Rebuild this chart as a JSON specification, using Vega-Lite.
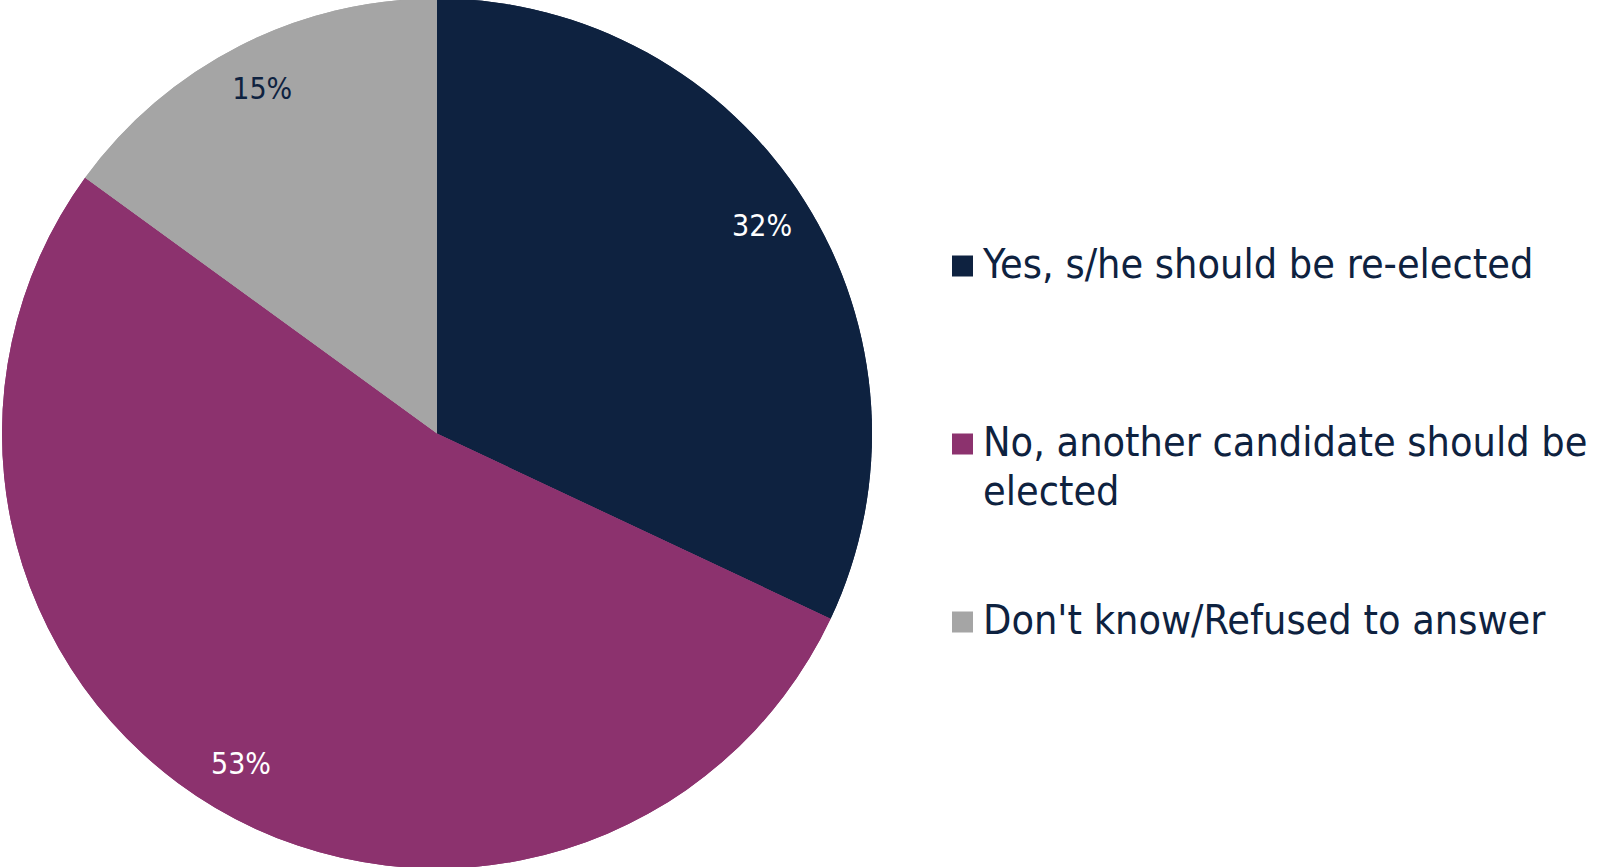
{
  "$schema": "https://vega.github.io/schema/vega-lite/v6.json",
  "width": 874,
  "height": 867,
  "padding": {"left": 0, "top": 0, "bottom": 0, "right": 734},
  "autosize": {"type": "none"},
  "background": "white",
  "config": {
    "view": {"stroke": null},
    "style": {"guide-label": {"lineHeight": 49}},
    "legend": {
      "title": null,
      "orient": "none",
      "symbolType": "square",
      "symbolSize": 441,
      "symbolStrokeWidth": 0,
      "labelFont": "DejaVu Sans Condensed",
      "labelFontSize": 41,
      "labelColor": "#0e2240",
      "labelOffset": 0,
      "labelLimit": 900,
      "clipHeight": 44,
      "rowPadding": 134
    }
  },
  "data": {
    "values": [
      {"answer": "Yes, s/he should be re-elected", "pct": 32, "ord": 1, "label": "32%"},
      {"answer": "No, another candidate should be elected", "pct": 53, "ord": 2, "label": "53%"},
      {"answer": "Don't know/Refused to answer", "pct": 15, "ord": 3, "label": "15%"}
    ]
  },
  "encoding": {
    "theta": {"field": "pct", "type": "quantitative", "stack": true},
    "order": {"field": "ord", "type": "quantitative"}
  },
  "layer": [
    {
      "mark": {"type": "arc", "outerRadius": 435},
      "encoding": {
        "color": {
          "field": "answer",
          "type": "nominal",
          "scale": {
            "domain": ["Yes, s/he should be re-elected", "No, another candidate should be elected", "Don't know/Refused to answer"],
            "range": ["#0e2240", "#8c326e", "#a5a5a5"]
          },
          "legend": {
            "title": null,
            "orient": "none",
            "legendX": 942,
            "legendY": 600,
            "values": ["Don't know/Refused to answer"]
          }
        }
      }
    },
    {
      "mark": {"type": "arc", "outerRadius": 435},
      "encoding": {
        "color": {
          "field": "answer",
          "type": "nominal",
          "scale": {
            "domain": ["Yes, s/he should be re-elected", "No, another candidate should be elected", "Don't know/Refused to answer"],
            "range": ["#0e2240", "#8c326e", "#a5a5a5"]
          },
          "legend": {
            "title": null,
            "orient": "none",
            "legendX": 942,
            "legendY": 244,
            "values": ["Yes, s/he should be re-elected", "No, another candidate should be elected"],
            "labelExpr": "datum.label == 'No, another candidate should be elected' ? ['No, another candidate should be', 'elected'] : datum.label"
          }
        }
      }
    },
    {
      "mark": {"type": "text", "radius": 385, "font": "DejaVu Sans Condensed", "fontSize": 30},
      "encoding": {
        "text": {"field": "label"},
        "color": {
          "field": "answer",
          "type": "nominal",
          "scale": {
            "domain": ["Yes, s/he should be re-elected", "No, another candidate should be elected", "Don't know/Refused to answer"],
            "range": ["#ffffff", "#ffffff", "#0e2240"]
          },
          "legend": null
        }
      }
    }
  ],
  "resolve": {"scale": {"color": "independent"}}
}
